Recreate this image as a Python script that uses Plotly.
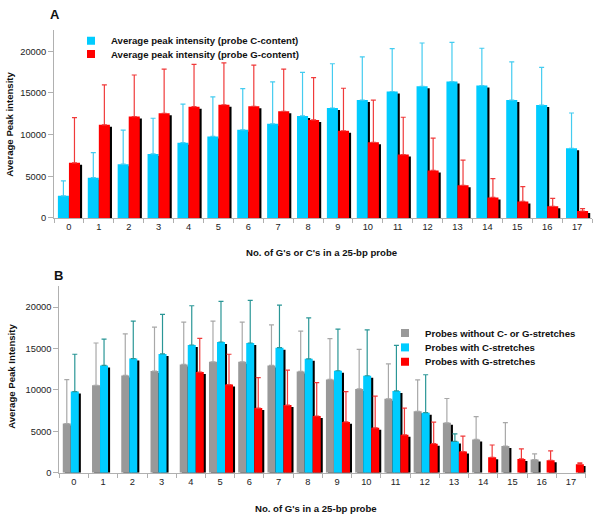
import plotly.graph_objects as go

# ---------------- data ----------------
categories = list(range(18))
tick_labels = [str(i) for i in categories]

# Panel A
a_c_content = [2650, 4830, 6450, 7680, 9030, 9780, 10570, 11290, 12240, 13190, 14140, 15170, 15800, 16360, 15880, 14140, 13540, 8360]
a_c_sd = [1790, 3010, 4080, 4280, 4630, 4750, 4950, 5030, 5230, 5310, 5190, 5150, 5190, 4710, 4480, 4590, 4520, 4230]
a_g_content = [6610, 11170, 12160, 12550, 13350, 13580, 13390, 12790, 11760, 10460, 9070, 7600, 5700, 3920, 2460, 1980, 1390, 830]
a_g_sd = [5430, 4790, 4990, 5310, 5070, 5030, 4950, 5070, 5070, 5100, 5070, 4480, 3880, 3010, 2250, 1780, 950, 280]

# Panel B
b_none = [5940, 10560, 11750, 12270, 13070, 13390, 13390, 12950, 12230, 11270, 10120, 8920, 7410, 6020, 4020, 3230, 1590, None]
b_none_sd = [5300, 5100, 5020, 5300, 5100, 4900, 4780, 4900, 4860, 4910, 4780, 4230, 3790, 2940, 2750, 2830, 680, None]
b_c_stretch = [9800, 12950, 13780, 14340, 15420, 15780, 15660, 15100, 13750, 12310, 11710, 9880, 7250, 3780, None, None, None, None]
b_c_stretch_sd = [4500, 3190, 4510, 4780, 4740, 4900, 5140, 5140, 4940, 5020, 5540, 5500, 4580, 920, None, None, None, None]
b_g_stretch = [None, None, None, None, 12150, 10640, 7810, 8170, 6850, 6140, 5420, 4580, 3510, 2550, 1870, 1670, 1510, 1040]
b_g_stretch_sd = [None, None, None, None, 4070, 3660, 3660, 4220, 4030, 3660, 3820, 3230, 2590, 1870, 1480, 1200, 1120, 160]

names_a = ["Average peak intensity (probe C-content)", "Average peak intensity (probe G-content)"]
names_b = ["Probes without C- or G-stretches", "Probes with C-stretches", "Probes with G-stretches"]

# ---------------- style ----------------
FONT = "Arial, Liberation Sans, Helvetica, sans-serif"
CYAN, RED, GRAY = "#00CCFF", "#FF0000", "#999999"
SHADOW = "#000000"
W, H = 600, 524

def px(xp): return xp / W
def py(yp): return (H - yp) / H

fig = go.Figure()

def shadow_vals(vals, drop):
    return [None if v is None else max(v - drop, 0) for v in vals]

def add_series(vals, sd, color, errcolor, offset, width, xa, ya, shift, drop):
    fig.add_trace(go.Bar(x=categories, y=shadow_vals(vals, drop), width=width, offset=offset + shift,
                         marker=dict(color=SHADOW, line=dict(width=0)), xaxis=xa, yaxis=ya,
                         showlegend=False, hoverinfo="skip"))
    fig.add_trace(go.Bar(x=categories, y=vals, width=width, offset=offset,
                         marker=dict(color=color, line=dict(width=0)), xaxis=xa, yaxis=ya,
                         showlegend=False,
                         error_y=dict(type="data", symmetric=False, array=sd,
                                      arrayminus=[0 if s is not None else None for s in sd],
                                      color=errcolor, thickness=1.2, width=2.5)))

# Panel A bars
wA = 0.37
add_series(a_c_content, a_c_sd, CYAN, "#44CCF0", -wA, wA, "x", "y", 0.07, 240)
add_series(a_g_content, a_g_sd, RED, "#F03A3A", 0.0, wA, "x", "y", 0.07, 240)

# Panel B bars
wB = 0.274
add_series(b_none, b_none_sd, GRAY, "#A8A8A8", -1.5 * wB + 0.03, wB, "x2", "y2", 0.07, 240)
add_series(b_c_stretch, b_c_stretch_sd, CYAN, "#2A9696", -0.5 * wB + 0.03, wB, "x2", "y2", 0.07, 240)
add_series(b_g_stretch, b_g_stretch_sd, RED, "#F03A3A", 0.5 * wB + 0.03, wB, "x2", "y2", 0.07, 240)

# legend entries: one small legend per entry so row spacing matches the original
leg_font = dict(family=FONT, size=9.6, color="#111111", weight="bold")
legend_layout = {}
entries = [(names_a[0], CYAN, "x", "y", 71, 41), (names_a[1], RED, "x", "y", 71, 54.5),
           (names_b[0], GRAY, "x2", "y2", 385, 336), (names_b[1], CYAN, "x2", "y2", 385, 350.6),
           (names_b[2], RED, "x2", "y2", 385, 365)]
for i, (name, col, xa, ya, lx, ly) in enumerate(entries):
    key = "legend" if i == 0 else f"legend{i + 1}"
    fig.add_trace(go.Scatter(x=[None], y=[None], mode="markers", name=name, legend=key,
                             marker=dict(symbol="square", size=8, color=col), xaxis=xa, yaxis=ya))
    legend_layout[key] = dict(x=px(lx), y=py(ly - 14.5), xanchor="left", yanchor="top",
                              bgcolor="rgba(0,0,0,0)", font=leg_font)

tickfont = dict(family=FONT, size=9.3, color="#222222")
xcommon = dict(range=[-0.5, 17.5], tickmode="array", tickvals=categories, ticktext=tick_labels,
               ticks="", showgrid=False, zeroline=False, showline=True, linecolor="#B0B0B0", linewidth=1,
               tickfont=tickfont, fixedrange=True,
               minor=dict(tickmode="linear", tick0=0.5, dtick=1, ticks="outside", ticklen=4,
                          tickcolor="#B0B0B0", showgrid=False))
ycommon = dict(range=[0, 22500], tickmode="array", tickvals=[0, 5000, 10000, 15000, 20000],
               ticktext=["0", "5000", "10000", "15000", "20000"], ticks="outside", ticklen=5,
               tickcolor="#B0B0B0", showgrid=False, zeroline=False, showline=True, linecolor="#B0B0B0",
               linewidth=1, tickfont=tickfont, fixedrange=True)

fig.update_layout(
    width=W, height=H, margin=dict(l=0, r=0, t=0, b=0),
    paper_bgcolor="white", plot_bgcolor="white",
    barmode="overlay", font=dict(family=FONT), showlegend=True,
    xaxis=dict(domain=[px(54), px(592)], anchor="y", **xcommon),
    yaxis=dict(domain=[py(220), py(30.7)], anchor="x", **ycommon),
    xaxis2=dict(domain=[px(59.3), px(585.6)], anchor="y2", **xcommon),
    yaxis2=dict(domain=[py(477.3), py(289.1)], anchor="x2", **ycommon),
    **legend_layout,
)

ann_font = dict(family=FONT, size=9.6, color="#111111", weight="bold")
def ann(text, x, y, font, angle=0):
    fig.add_annotation(text=text, x=px(x), y=py(y), xref="paper", yref="paper", showarrow=False,
                       xanchor="center", yanchor="middle", textangle=angle, font=font)

ann("A", 54.5, 14.5, dict(family=FONT, size=13, color="#111111", weight="bold"))
ann("B", 58.3, 278.5, dict(family=FONT, size=13, color="#111111", weight="bold"))
ann("No. of G's or C's in a 25-bp probe", 321, 255, ann_font)
ann("No. of G's in a 25-bp probe", 316, 513, ann_font)
ann("Average Peak intensity", 10, 126, ann_font, -90)
ann("Average Peak Intensity", 11.5, 380, ann_font, -90)

fig.write_html("out.html", config={"displayModeBar": False},
               post_script="document.body.style.margin='0px';")
